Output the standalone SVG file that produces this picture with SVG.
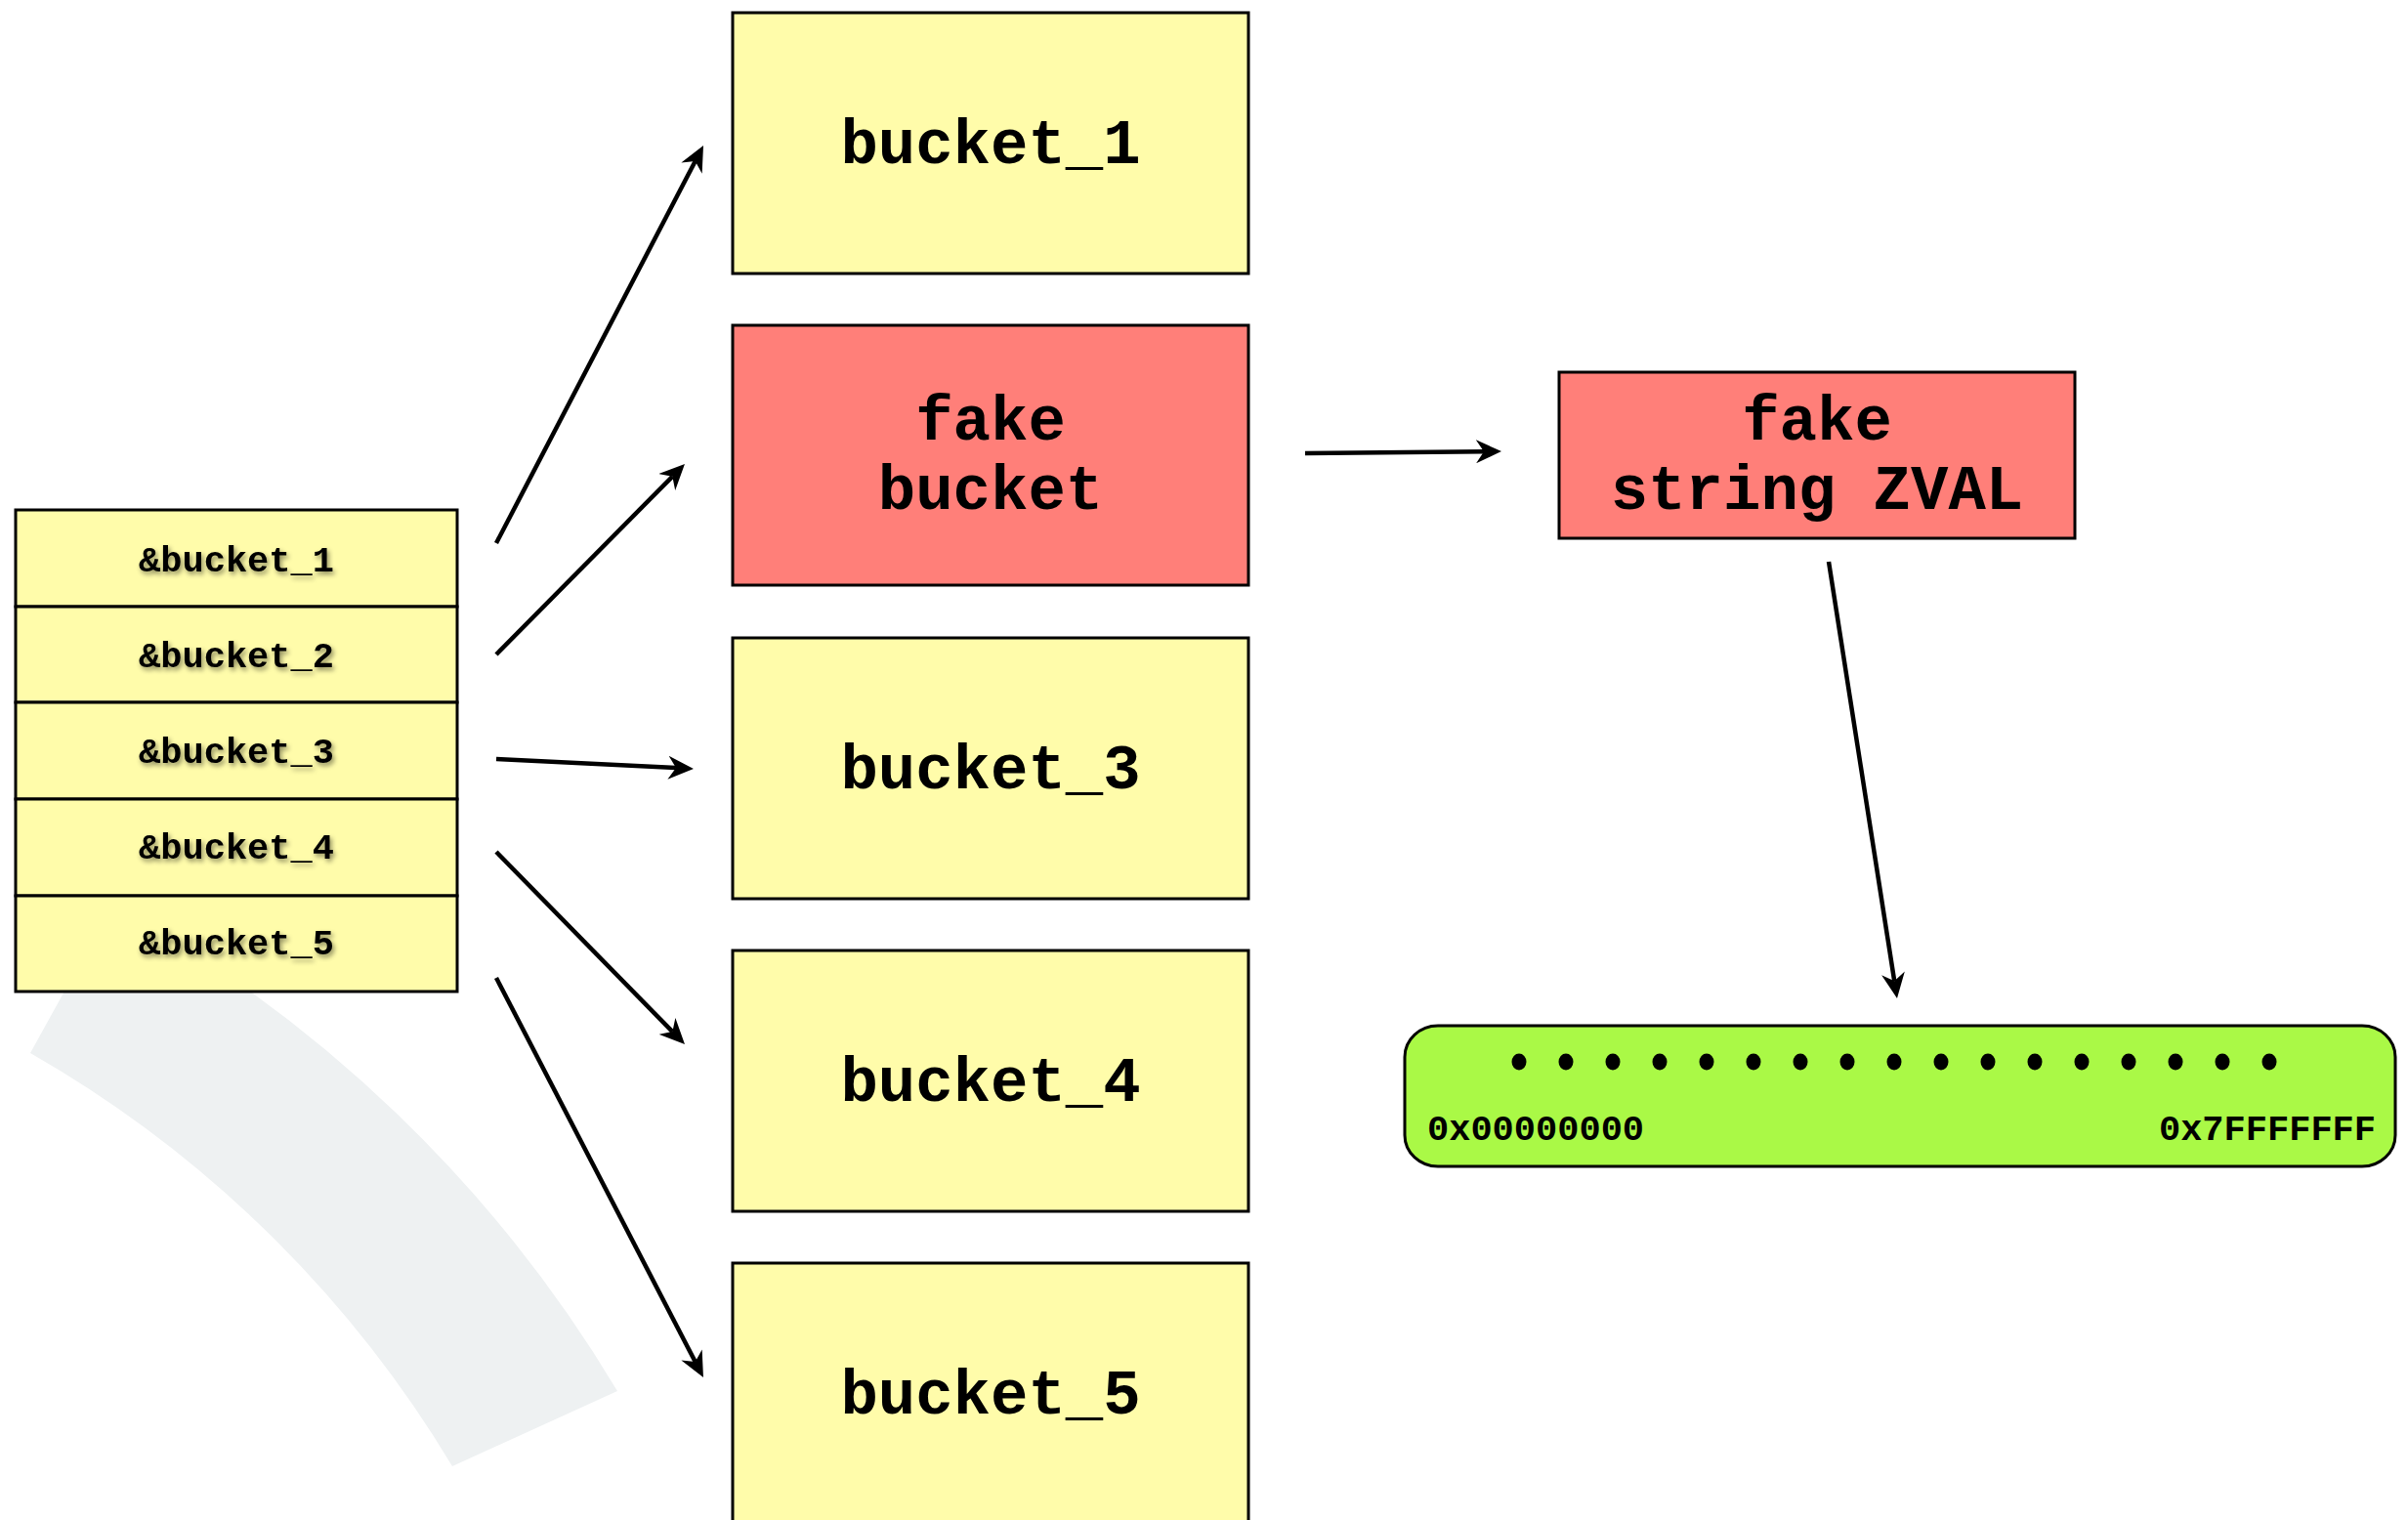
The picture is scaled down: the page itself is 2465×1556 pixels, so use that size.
<svg xmlns="http://www.w3.org/2000/svg" width="2465" height="1556" viewBox="0 0 2465 1556">
<style>
.mono{font-family:"Liberation Mono","Courier New",monospace;font-weight:bold;fill:#000}
.big{font-size:64px;text-anchor:middle}
.small{font-size:37px;text-anchor:middle}
.addr{font-size:37px}
.yel{fill:#fffcaa;stroke:#000;stroke-width:3}
.red{fill:#ff7f79;stroke:#000;stroke-width:3}
.conn{stroke:#000;stroke-width:4.5;fill:none;marker-end:url(#arr)}
</style>
<defs>
<marker id="arr" viewBox="0 0 26 24" refX="8" refY="12" markerWidth="26" markerHeight="24" markerUnits="userSpaceOnUse" orient="auto">
<path d="M0,0 L26,12 L0,24 L8,12 Z" fill="#000"/>
</marker>
<filter id="sh" x="-10%" y="-30%" width="130%" height="170%">
<feDropShadow dx="2" dy="3" stdDeviation="2.5" flood-color="#000" flood-opacity="0.45"/>
</filter>
</defs>
<rect width="2465" height="1556" fill="#fff"/>
<path d="M115,926 A1368,1368 0 0 1 632,1424 L463,1501 A1195,1195 0 0 0 31,1078 Z" fill="#eef1f2"/>
<g id="table">
<rect class="yel" x="16" y="522" width="452" height="99"/>
<rect class="yel" x="16" y="621" width="452" height="98"/>
<rect class="yel" x="16" y="719" width="452" height="99"/>
<rect class="yel" x="16" y="818" width="452" height="99"/>
<rect class="yel" x="16" y="917" width="452" height="98"/>
<g filter="url(#sh)">
<text class="mono small" x="242" y="585">&amp;bucket_1</text>
<text class="mono small" x="242" y="683">&amp;bucket_2</text>
<text class="mono small" x="242" y="781">&amp;bucket_3</text>
<text class="mono small" x="242" y="879">&amp;bucket_4</text>
<text class="mono small" x="242" y="977">&amp;bucket_5</text>
</g>
</g>
<g id="bucket_1">
<rect class="yel" x="750" y="13" width="528" height="267"/>
<text class="mono big" x="1014" y="167">bucket_1</text>
</g>
<g id="fake_bucket">
<rect class="red" x="750" y="333" width="528" height="266"/>
<text class="mono big" x="1014" y="450">fake</text>
<text class="mono big" x="1014" y="521">bucket</text>
</g>
<g id="bucket_3">
<rect class="yel" x="750" y="653" width="528" height="267"/>
<text class="mono big" x="1014" y="807">bucket_3</text>
</g>
<g id="bucket_4">
<rect class="yel" x="750" y="973" width="528" height="267"/>
<text class="mono big" x="1014" y="1127">bucket_4</text>
</g>
<g id="bucket_5">
<rect class="yel" x="750" y="1293" width="528" height="280"/>
<text class="mono big" x="1014" y="1447">bucket_5</text>
</g>
<g id="fake_zval">
<rect class="red" x="1596" y="381" width="528" height="170"/>
<text class="mono big" x="1860" y="450">fake</text>
<text class="mono big" x="1860" y="521">string ZVAL</text>
</g>
<g id="memory">
<rect x="1438" y="1050" width="1014" height="144" rx="34" ry="32" fill="#aaf946" stroke="#000" stroke-width="3"/>
<g fill="#000">
<ellipse cx="1555" cy="1087" rx="7.5" ry="8.5"/>
<ellipse cx="1603" cy="1087" rx="7.5" ry="8.5"/>
<ellipse cx="1651" cy="1087" rx="7.5" ry="8.5"/>
<ellipse cx="1699" cy="1087" rx="7.5" ry="8.5"/>
<ellipse cx="1747" cy="1087" rx="7.5" ry="8.5"/>
<ellipse cx="1795" cy="1087" rx="7.5" ry="8.5"/>
<ellipse cx="1843" cy="1087" rx="7.5" ry="8.5"/>
<ellipse cx="1891" cy="1087" rx="7.5" ry="8.5"/>
<ellipse cx="1939" cy="1087" rx="7.5" ry="8.5"/>
<ellipse cx="1987" cy="1087" rx="7.5" ry="8.5"/>
<ellipse cx="2035" cy="1087" rx="7.5" ry="8.5"/>
<ellipse cx="2083" cy="1087" rx="7.5" ry="8.5"/>
<ellipse cx="2131" cy="1087" rx="7.5" ry="8.5"/>
<ellipse cx="2179" cy="1087" rx="7.5" ry="8.5"/>
<ellipse cx="2227" cy="1087" rx="7.5" ry="8.5"/>
<ellipse cx="2275" cy="1087" rx="7.5" ry="8.5"/>
<ellipse cx="2323" cy="1087" rx="7.5" ry="8.5"/>
</g>
<text class="mono addr" x="1461" y="1167">0x00000000</text>
<text class="mono addr" x="2432" y="1167" text-anchor="end">0x7FFFFFFF</text>
</g>
<g id="connectors">
<line class="conn" x1="508" y1="556" x2="711.7" y2="165"/>
<line class="conn" x1="508" y1="670" x2="688.3" y2="487.8"/>
<line class="conn" x1="508" y1="777" x2="692" y2="786.1"/>
<line class="conn" x1="508" y1="872" x2="688.4" y2="1056.1"/>
<line class="conn" x1="508" y1="1001" x2="711.7" y2="1394"/>
<line class="conn" x1="1336" y1="464" x2="1519" y2="462.2"/>
<line class="conn" x1="1872" y1="575" x2="1939.2" y2="1004.2"/>
</g>
</svg>
